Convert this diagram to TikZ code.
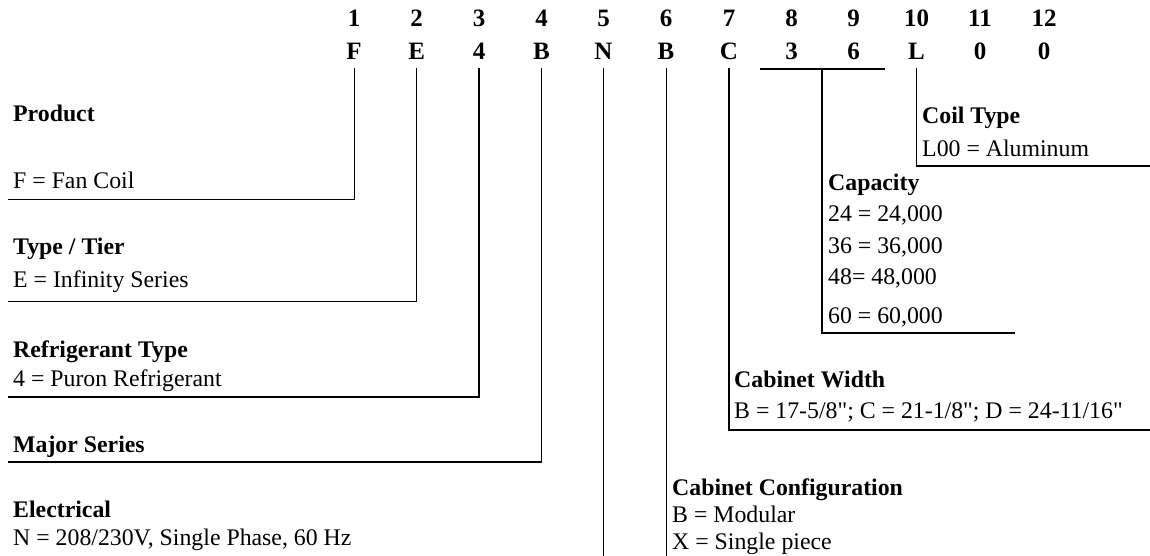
\documentclass[tikz,border=0pt]{standalone}
\usepackage{fontspec}
\setmainfont{Liberation Serif}[Ligatures=TeXOff]
\begin{document}
\begin{tikzpicture}[x=1pt,y=-1pt,
  hd/.style={inner sep=0pt,anchor=base,font=\fontsize{25}{28}\selectfont\bfseries},
  ttl/.style={inner sep=0pt,anchor=base west,font=\fontsize{23.8}{28}\selectfont\bfseries},
  val/.style={inner sep=0pt,anchor=base west,font=\fontsize{23.8}{28}\selectfont},
  thinln/.style={draw=black,line width=1pt},
  thickln/.style={draw=black,line width=1.7pt}]
\useasboundingbox (0,0) rectangle (1150,556);
% header row
\foreach \i/\x/\c in {1/354/F,2/416.6/E,3/479/4,4/541.5/B,5/603.5/N,6/666/B,7/729/C,8/791.5/3,9/853.5/6,10/916.5/L,11/980/0,12/1044/0}{
  \node[hd] (n\i) at (\x,27) {\i};
  \node[hd] (c\i) at (\x,60) {\c};
}
% texts
\node[ttl] (prodT) at (13,122) {Product};
\node[val] (prodV) at (13,189) {F = Fan Coil};
\node[ttl] (typeT) at (13,254) {Type / Tier};
\node[val] (typeV) at (13,287) {E = Infinity Series};
\node[ttl] (refT) at (13,357) {Refrigerant Type};
\node[val] (refV) at (13,386) {4 = Puron Refrigerant};
\node[ttl] (majT) at (13,452) {Major Series};
\node[ttl] (elecT) at (13,517) {Electrical};
\node[val] (elecV) at (13,545) {N = 208/230V, Single Phase, 60 Hz};
\node[ttl] (cfgT) at (672,495) {Cabinet Configuration};
\node[val] (cfgB) at (672,522) {B = Modular};
\node[val] (cfgX) at (672,549) {X = Single piece};
\node[ttl] (cwT) at (734,387) {Cabinet Width};
\node[val] (cwV) at (734,418) {B = 17-5/8"; C = 21-1/8"; D = 24-11/16"};
\node[ttl] (capT) at (828,190) {Capacity};
\node[val] (cap24) at (828,221) {24 = 24,000};
\node[val] (cap36) at (828,253) {36 = 36,000};
\node[val] (cap48) at (828,284) {48= 48,000};
\node[val] (cap60) at (828,323) {60 = 60,000};
\node[ttl] (coilT) at (922,124) {Coil Type};
\node[val] (coilV) at (922,157) {L00 = Aluminum};
% connector coordinates
\coordinate (s1) at (354,68);   \coordinate (k1) at (354,199);   \coordinate (e1) at (8,199);
\coordinate (s2) at (416.6,68); \coordinate (k2) at (416.6,301); \coordinate (e2) at (8,301);
\coordinate (s3) at (479,68);   \coordinate (k3) at (479,397);   \coordinate (e3) at (8,397);
\coordinate (s4) at (541.5,68); \coordinate (k4) at (541.5,462); \coordinate (e4) at (8,462);
\coordinate (s5) at (603.5,68); \coordinate (e5) at (603.5,556);
\coordinate (s6) at (666,68);   \coordinate (e6) at (666,556);
\coordinate (s7) at (729,68);   \coordinate (k7) at (729,430);   \coordinate (e7) at (1150,430);
\coordinate (b8) at (760,69);   \coordinate (b9) at (885,69);
\coordinate (s89) at (822,69);  \coordinate (k89) at (822,333);  \coordinate (e89) at (1015,333);
\coordinate (s10) at (916.5,68); \coordinate (k10) at (916.5,166); \coordinate (e10) at (1150,166);
% connectors
\draw[thinln] (s1) -- (k1) -- (e1);
\draw[thinln] (s2) -- (k2) -- (e2);
\draw[thickln] (s3) -- (k3) -- (e3);
\draw[thickln] (s4) -- (k4) -- (e4);
\draw[thinln] (s5) -- (e5);
\draw[thinln] (s6) -- (e6);
\draw[thickln] (s7) -- (k7) -- (e7);
\draw[thickln] (b8) -- (b9);
\draw[thickln] (s89) -- (k89) -- (e89);
\draw[thickln] (s10) -- (k10) -- (e10);
\end{tikzpicture}
\end{document}
